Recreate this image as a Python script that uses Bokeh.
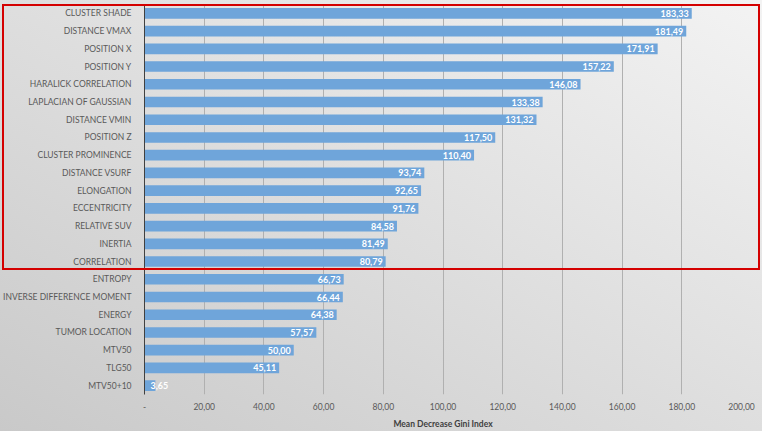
from bokeh.plotting import figure
from bokeh.models import (ColumnDataSource, FactorRange, Range1d, FixedTicker,
                          InlineStyleSheet)
from bokeh.embed import file_html
from bokeh.resources import INLINE
from bokeh.core.properties import value

categories = ["CLUSTER SHADE", "DISTANCE VMAX", "POSITION X", "POSITION Y",
              "HARALICK CORRELATION", "LAPLACIAN OF GAUSSIAN", "DISTANCE VMIN",
              "POSITION Z", "CLUSTER PROMINENCE", "DISTANCE VSURF", "ELONGATION",
              "ECCENTRICITY", "RELATIVE SUV", "INERTIA", "CORRELATION", "ENTROPY",
              "INVERSE DIFFERENCE MOMENT", "ENERGY", "TUMOR LOCATION", "MTV50",
              "TLG50", "MTV50+10"]
gini = [183.33, 181.49, 171.91, 157.22, 146.08, 133.38, 131.32, 117.50, 110.40,
        93.74, 92.65, 91.76, 84.58, 81.49, 80.79, 66.73, 66.44, 64.38, 57.57,
        50.00, 45.11, 3.65]
x_ticks = [0, 20, 40, 60, 80, 100, 120, 140, 160, 180, 200]
x_tick_labels = ["-", "20,00", "40,00", "60,00", "80,00", "100,00", "120,00",
                 "140,00", "160,00", "180,00", "200,00"]

FONT = "Lato"
labels = [f"{v:.2f}".replace(".", ",") for v in gini]
small = [v < 10 for v in gini]
src = ColumnDataSource(dict(
    cat=categories, val=gini, lab=labels,
    lx=[0 if s else v for s, v in zip(small, gini)],
    align=["left" if s else "right" for s in small],
    xoff=[6 if s else -3 for s in small],
))

factors = list(reversed(categories))
p = figure(width=762, height=431, output_backend="svg", toolbar_location=None,
           y_range=FactorRange(*factors, range_padding=0),
           x_range=Range1d(0, 200),
           min_border_left=128, min_border_right=21,
           min_border_top=4, min_border_bottom=35)

css = """
:host {
  position: relative;
  background: linear-gradient(to top right, #c9c9c9 0%, #dcdcdc 45%, #f3f3f3 100%);
}
:host::after {
  content: "";
  position: absolute;
  left: 2px; top: 4px; width: 758px; height: 266px;
  border: 2px solid #d40000;
  box-sizing: border-box;
  pointer-events: none;
}
"""
p.stylesheets = [InlineStyleSheet(css=css)]
p.background_fill_alpha = 0
p.border_fill_alpha = 0
p.outline_line_color = None

p.hbar(y="cat", right="val", left=0, height=0.6, source=src,
       fill_color="#6fa5da", line_color=None)
p.text(x="lx", y="cat", text="lab", source=src, text_align="align",
       x_offset="xoff", text_baseline="middle", text_color="white",
       text_font=value(FONT), text_font_size="9px", text_font_style="bold")

p.xaxis.ticker = FixedTicker(ticks=x_ticks)
p.xaxis.major_label_overrides = {t: l for t, l in zip(x_ticks, x_tick_labels)}
p.xaxis.axis_line_color = None
p.xaxis.major_tick_line_color = None
p.xaxis.minor_tick_line_color = None
p.xaxis.major_label_standoff = 2
p.xaxis.major_label_text_font = FONT
p.xaxis.major_label_text_font_size = "8.5px"
p.xaxis.major_label_text_color = "#595959"
p.xaxis.axis_label = "Mean Decrease Gini Index"
p.xaxis.axis_label_text_font = FONT
p.xaxis.axis_label_text_font_size = "8.5px"
p.xaxis.axis_label_text_font_style = "bold"
p.xaxis.axis_label_text_color = "#404040"
p.xaxis.axis_label_standoff = 6

p.yaxis.axis_line_color = "#404040"
p.yaxis.major_tick_line_color = None
p.yaxis.minor_tick_line_color = None
p.yaxis.major_label_standoff = 7
p.yaxis.major_label_text_font = FONT
p.yaxis.major_label_text_font_size = "8.5px"
p.yaxis.major_label_text_color = "#595959"

p.xgrid.grid_line_color = "#b0b0b0"
p.ygrid.grid_line_color = None

open("out.html", "w").write(file_html(p, INLINE))
